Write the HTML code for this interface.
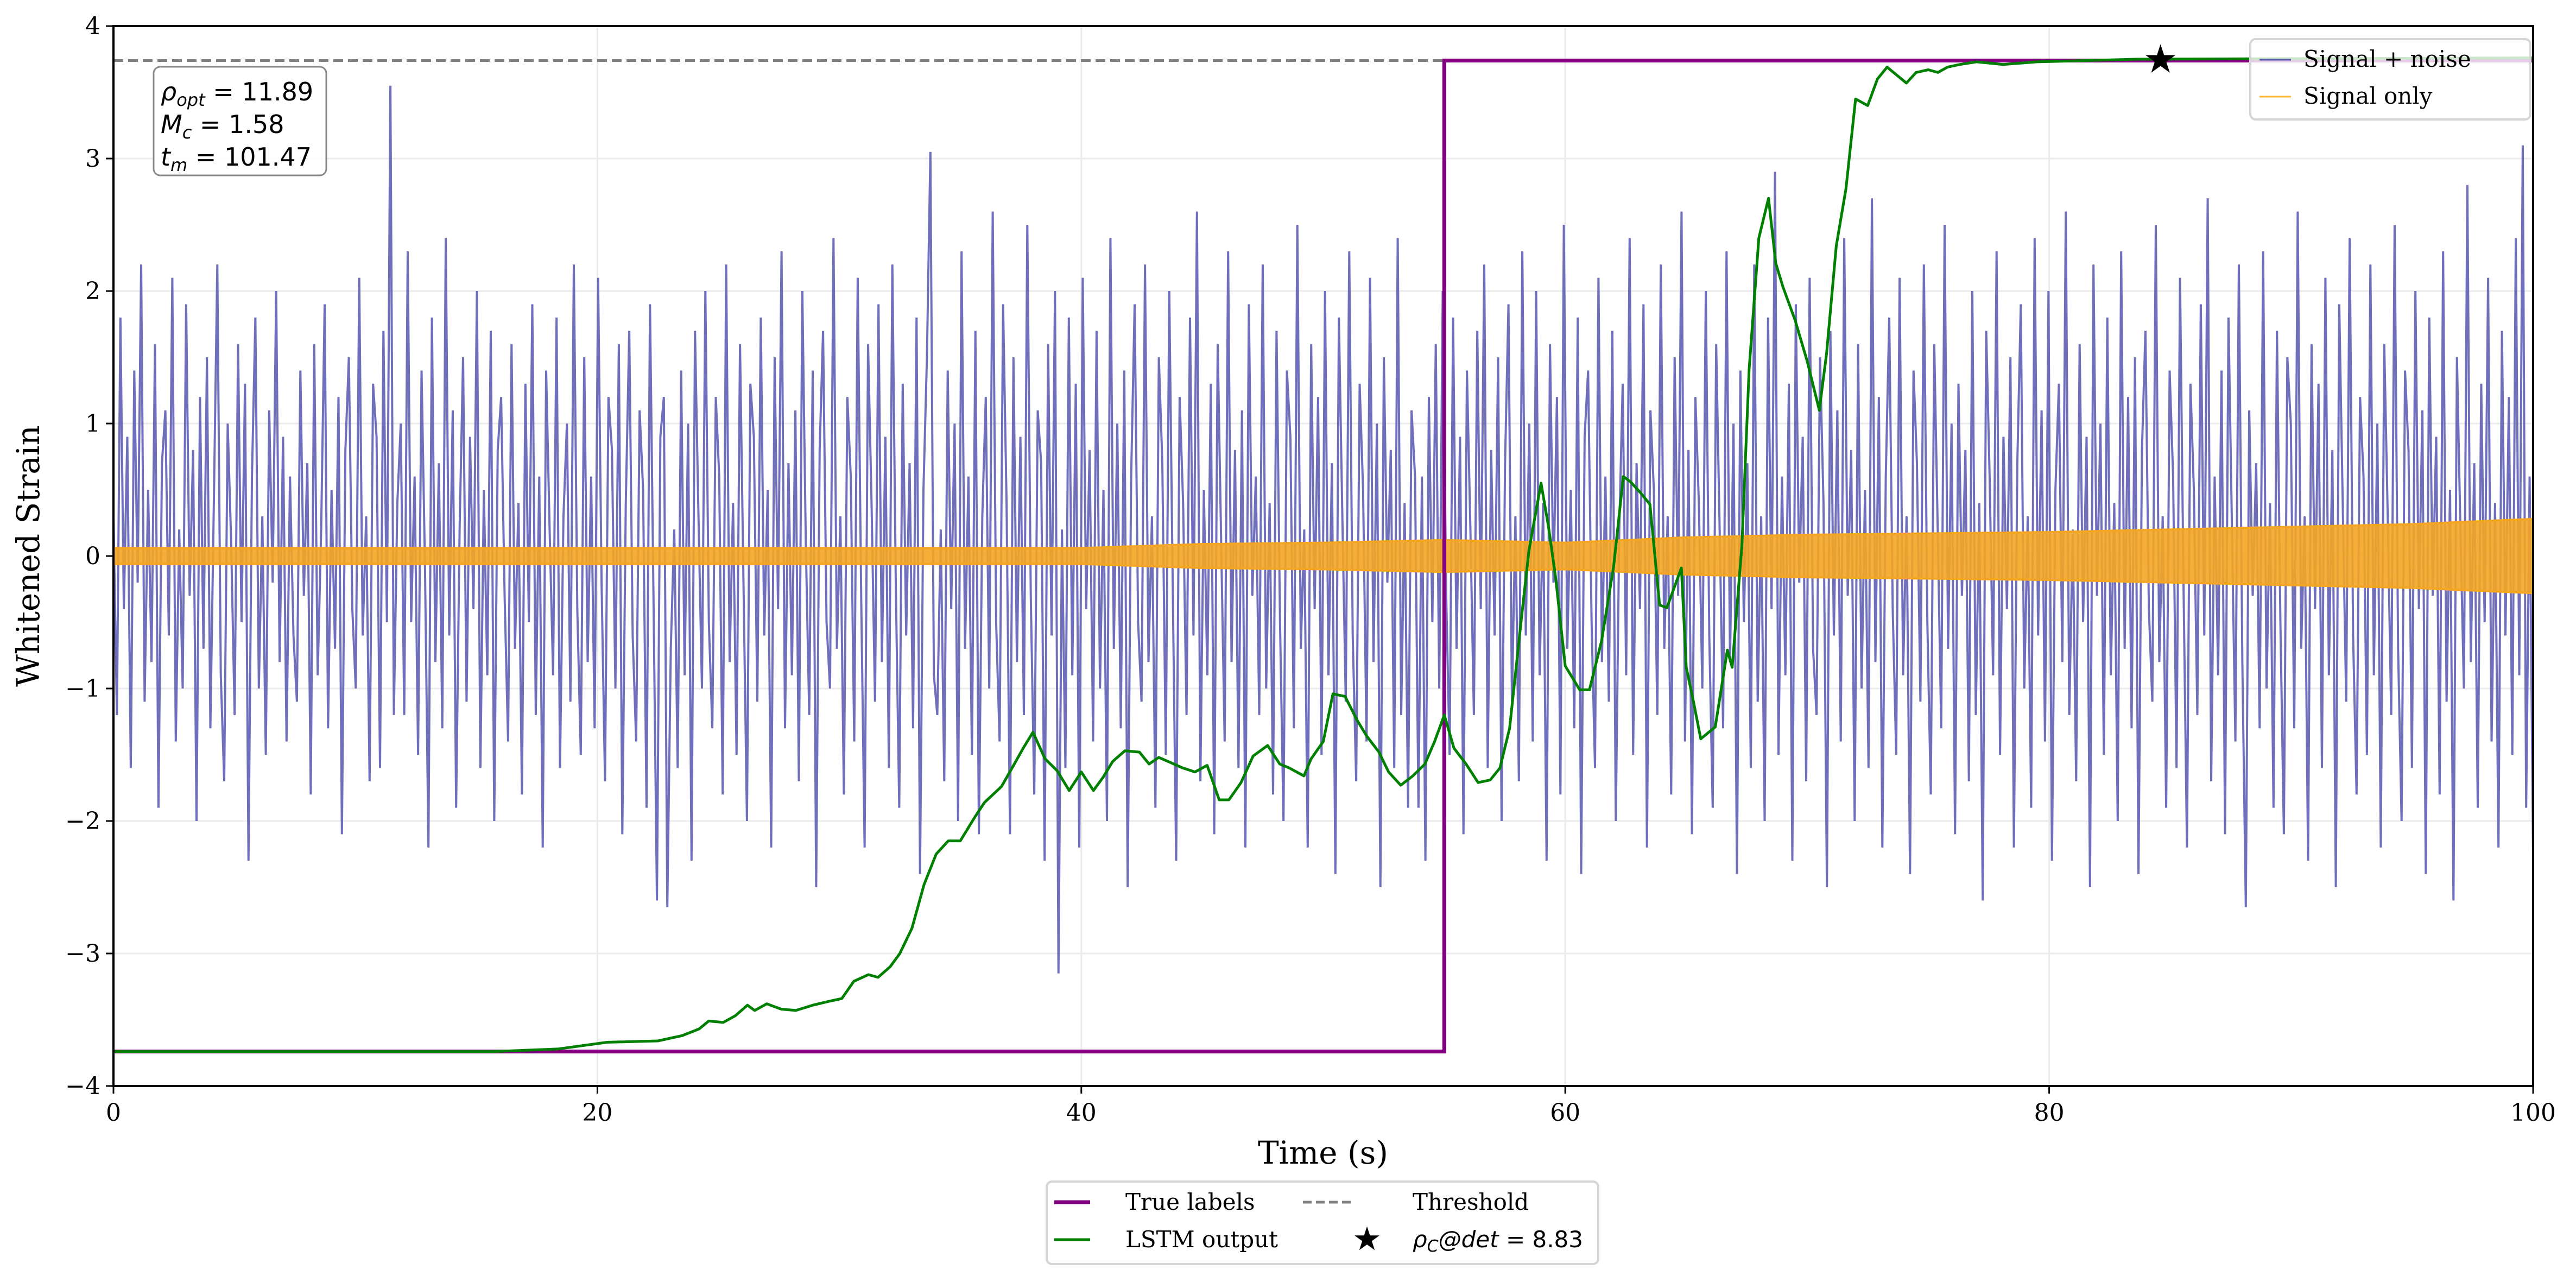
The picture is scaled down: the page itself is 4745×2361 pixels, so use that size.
<!DOCTYPE html>
<html><head><meta charset="utf-8"><style>
html,body{margin:0;padding:0;background:#fff;}
svg{display:block;font-family:"DejaVu Serif","Liberation Serif",serif;}
</style></head><body>
<svg id="chart" width="4745" height="2361" viewBox="0 0 4745 2361">
<rect x="0" y="0" width="4745" height="2361" fill="#fff"/>
<g id="grid"></g>
<g id="plot"></g>
<rect x="209" y="48" width="4457" height="1952" fill="none" stroke="#000" stroke-width="4"/>
<g id="ticks"></g>
<text x="2437" y="2143" font-size="58" text-anchor="middle">Time (s)</text>
<text x="72" y="1024" font-size="58" text-anchor="middle" transform="rotate(-90 72 1024)">Whitened Strain</text>
<g>
<rect x="283" y="123" width="318" height="200" rx="12" fill="#fff" fill-opacity="0.85" stroke="#888" stroke-width="3"/>
<text x="296" y="185" font-size="46" font-family="DejaVu Sans, sans-serif"><tspan font-style="italic">ρ</tspan><tspan font-size="32" dy="10" font-style="italic">opt</tspan><tspan dy="-10"> = 11.89</tspan></text>
<text x="296" y="245" font-size="46" font-family="DejaVu Sans, sans-serif"><tspan font-style="italic">M</tspan><tspan font-size="32" dy="10" font-style="italic">c</tspan><tspan dy="-10"> = 1.58</tspan></text>
<text x="296" y="305" font-size="46" font-family="DejaVu Sans, sans-serif"><tspan font-style="italic">t</tspan><tspan font-size="32" dy="10" font-style="italic">m</tspan><tspan dy="-10"> = 101.47</tspan></text>
</g>
<g>
<rect x="4145" y="72" width="516" height="148" rx="10" fill="#fff" fill-opacity="0.8" stroke="#d5d5d5" stroke-width="4"/>
<line x1="4162" y1="110" x2="4220" y2="110" stroke="#5c5cb0" stroke-width="3"/>
<text x="4243" y="123" font-size="42">Signal + noise</text>
<line x1="4162" y1="178" x2="4220" y2="178" stroke="#ffb52e" stroke-width="3"/>
<text x="4243" y="191" font-size="42">Signal only</text>
</g>
<g>
<rect x="1928" y="2176" width="1016" height="152" rx="10" fill="#fff" stroke="#d5d5d5" stroke-width="4"/>
<line x1="1942" y1="2214" x2="2008" y2="2214" stroke="purple" stroke-width="7"/>
<text x="2073" y="2228" font-size="42">True labels</text>
<line x1="1942" y1="2283" x2="2008" y2="2283" stroke="green" stroke-width="5"/>
<text x="2073" y="2297" font-size="42">LSTM output</text>
<line x1="2400" y1="2214" x2="2488" y2="2214" stroke="#808080" stroke-width="5" stroke-dasharray="16 8"/>
<text x="2602" y="2228" font-size="42">Threshold</text>
<text x="2518" y="2302" font-size="60" font-family="DejaVu Sans, sans-serif" text-anchor="middle">★</text>
<text x="2602" y="2297" font-size="42" font-family="DejaVu Sans, sans-serif"><tspan font-style="italic">ρ</tspan><tspan font-size="30" dy="8" font-style="italic">C</tspan><tspan dy="-8" font-style="italic">@det</tspan> = 8.83</text>
</g>
</svg>
<script>
const xTicks=[0,20,40,60,80,100];
const yTicks=[-4,-3,-2,-1,0,1,2,3,4];
const lstmT=[0,15.7,18.4,20.4,22.5,23.5,24.2,24.6,25.2,25.7,26.2,26.5,27.0,27.6,28.2,28.9,29.6,30.1,30.6,31.2,31.6,32.1,32.5,33.0,33.5,34.0,34.5,35.0,35.6,36.0,36.7,37.2,37.6,38.0,38.5,39.0,39.5,40.0,40.5,40.9,41.3,41.8,42.4,42.8,43.2,43.7,44.2,44.7,45.2,45.7,46.1,46.6,47.1,47.7,48.2,48.6,49.2,49.5,50.0,50.4,50.9,51.4,51.8,52.3,52.7,53.2,53.7,54.2,54.6,55.0,55.4,55.9,56.4,56.9,57.3,57.7,58.2,58.5,59.0,59.3,59.6,60.0,60.6,61.0,61.5,62.0,62.4,62.7,63.1,63.5,63.9,64.2,64.8,65.0,65.3,65.6,66.2,66.7,66.9,67.3,67.6,68.0,68.4,68.7,69.0,69.5,70.0,70.5,70.8,71.2,71.6,72.0,72.5,72.9,73.3,73.7,74.1,74.5,75.0,75.4,75.8,76.3,77.0,78.1,79.5,83.6,100];
const lstmY=[-3.74,-3.74,-3.72,-3.67,-3.66,-3.62,-3.57,-3.51,-3.52,-3.47,-3.39,-3.43,-3.38,-3.42,-3.43,-3.39,-3.36,-3.34,-3.21,-3.16,-3.18,-3.10,-3.00,-2.81,-2.48,-2.25,-2.15,-2.15,-1.97,-1.86,-1.74,-1.58,-1.45,-1.33,-1.53,-1.62,-1.77,-1.63,-1.77,-1.67,-1.55,-1.47,-1.48,-1.57,-1.52,-1.56,-1.60,-1.63,-1.58,-1.84,-1.84,-1.71,-1.51,-1.43,-1.57,-1.60,-1.66,-1.53,-1.40,-1.04,-1.06,-1.24,-1.36,-1.48,-1.63,-1.73,-1.66,-1.57,-1.40,-1.20,-1.45,-1.57,-1.71,-1.69,-1.60,-1.30,-0.45,0.04,0.55,0.23,-0.16,-0.83,-1.01,-1.01,-0.64,-0.08,0.60,0.56,0.48,0.39,-0.37,-0.39,-0.09,-0.84,-1.10,-1.38,-1.29,-0.71,-0.84,0.08,1.41,2.40,2.70,2.21,2.03,1.78,1.47,1.10,1.53,2.34,2.77,3.45,3.40,3.60,3.69,3.63,3.57,3.65,3.67,3.65,3.69,3.71,3.73,3.71,3.73,3.75,3.76];
const labelT=[0,55,55,100];
const labelY=[-3.74,-3.74,3.74,3.74];
const threshold=[3.74];
const starT=[84.6];
const starY=[3.74];
const envT=[0,10,20,30,40,45,50,55,60,65,70,75,80,85,90,95,100];
const envA=[0.06,0.06,0.06,0.06,0.06,0.09,0.1,0.12,0.1,0.14,0.16,0.17,0.18,0.2,0.22,0.24,0.28];
const noise=[
0.3,-1.2,1.8,-0.4,0.9,-1.6,1.4,-0.2,2.2,-1.1,0.5,-0.8,1.6,-1.9,0.7,1.1,-0.6,2.1,-1.4,0.2,-1.0,1.9,-0.3,0.8,-2.0,1.2,-0.7,1.5,-1.3,0.4,2.2,-0.9,-1.7,1.0,0.1,-1.2,1.6,-0.5,1.3,-2.3,0.6,1.8,-1.0,0.3,-1.5,1.1,-0.2,2.0,-0.8,0.9,
-1.4,0.6,-0.6,-1.1,1.4,-0.3,0.7,-1.8,1.6,-0.9,0.2,1.9,-1.3,0.5,-0.7,1.2,-2.1,0.8,1.5,-0.4,-1.0,2.1,-0.6,0.3,-1.7,1.3,0.9,-1.6,1.7,-0.5,3.55,-1.2,0.4,1.0,-1.2,2.3,-0.5,0.6,-1.5,1.4,-0.1,-2.2,1.8,-0.8,0.7,-1.3,2.4,-0.6,1.1,-1.9,
0.2,1.5,-1.1,0.9,-0.4,2.0,-1.6,0.5,-0.9,1.7,-2.0,0.8,1.2,-0.3,-1.4,1.6,-0.7,0.4,-1.8,1.3,-0.5,1.9,-1.2,0.6,-2.2,1.4,0.2,-0.9,1.8,-1.6,0.3,1.0,-1.1,2.2,-0.4,-1.5,1.5,-0.8,0.6,-1.3,2.1,-0.2,-1.7,1.2,0.8,-1.0,1.6,-2.1,0.4,1.7,
-0.6,-1.4,1.1,0.5,-1.9,1.9,-0.3,-2.6,0.9,1.2,-2.65,-0.7,0.2,-1.6,1.4,-0.9,1.0,-2.3,1.7,0.3,-1.0,2.0,-0.5,-1.3,1.2,0.6,-1.8,2.2,-0.8,0.4,-1.5,1.6,-0.2,-2.0,1.3,0.9,-1.1,1.8,-0.6,0.5,-2.2,1.5,-0.4,2.3,-1.3,0.7,-0.9,1.1,-1.7,2.0,
0.1,-1.2,1.4,-2.5,0.8,1.7,-0.5,-1.0,2.4,-0.7,0.3,-1.8,1.2,0.6,-1.4,2.1,-0.3,-2.2,1.6,0.4,-1.1,1.9,-0.8,0.9,-1.6,2.2,-0.2,-1.9,1.3,-0.6,0.7,-1.3,1.8,-2.4,0.5,1.5,3.05,-0.9,-1.2,0.2,-1.7,1.4,-0.4,1.0,-2.0,2.3,-0.7,0.6,-1.5,1.7,
-2.1,0.3,1.2,-1.0,2.6,-0.5,-1.4,1.9,0.4,-2.1,1.5,-0.8,0.9,-1.2,2.5,-0.3,-1.8,1.1,0.7,-2.3,1.6,-0.6,2.0,-3.15,0.2,-1.6,1.8,-0.9,1.3,-2.2,2.1,-0.4,0.8,-1.4,1.7,-1.0,0.5,-2.0,2.4,-0.7,1.0,-1.3,1.4,-2.5,0.6,1.9,-0.5,-1.1,2.2,-0.8,
0.3,-1.9,1.5,0.7,-1.5,2.0,-0.2,-2.3,1.2,0.4,-1.2,1.8,-0.6,2.6,-1.7,0.5,-0.9,1.3,-2.1,1.6,0.1,-1.4,2.3,-0.8,0.8,-1.6,1.1,-2.2,1.9,-0.3,0.6,-1.2,2.2,-1.0,0.4,-1.8,1.7,-0.5,-2.0,1.4,0.9,-1.3,2.5,-0.7,0.2,-2.2,1.6,-0.4,1.2,-1.5,
2.0,-0.9,0.7,-2.4,1.8,0.3,-1.1,2.3,-0.6,-1.7,1.3,0.5,-1.4,2.1,-0.8,1.0,-2.5,1.5,-0.2,0.8,-1.6,2.4,-1.2,0.4,-1.9,1.1,0.6,-1.9,0.6,-2.3,1.2,-0.5,1.6,-1.0,2.0,-0.3,-1.5,1.8,-0.7,0.9,-2.1,1.4,0.2,-1.2,1.7,-0.4,2.2,-1.6,0.8,-0.6,
1.5,-2.0,0.7,1.9,-1.1,0.3,-1.7,2.3,-0.6,1.0,-1.4,2.0,-0.9,0.4,-2.3,1.6,-0.2,1.2,-1.8,2.5,-0.7,0.5,-1.3,1.8,-2.4,0.9,1.4,-0.5,-1.6,2.1,-0.8,0.6,-1.1,1.7,-2.0,0.2,1.3,-0.9,2.4,-1.5,0.7,-0.4,1.9,-2.2,1.1,0.5,-1.2,2.2,-0.7,0.3,
-1.8,1.5,-0.3,2.6,-1.4,0.8,-2.1,1.2,0.4,-1.0,2.0,-0.6,-1.9,1.6,0.2,-1.3,2.3,-0.8,1.0,-2.4,1.4,-0.5,0.7,-1.6,2.2,-1.1,0.3,-2.0,1.8,-0.4,2.9,-1.5,0.6,-0.9,1.3,-2.3,1.9,-0.2,0.9,-1.7,2.1,-0.7,-1.2,1.5,0.4,-2.5,1.7,-0.6,1.1,-1.4,
2.4,-0.3,0.8,-2.0,1.6,-1.0,0.5,-1.6,2.7,-0.8,1.2,-2.2,0.6,1.8,-0.4,-1.5,2.1,-0.9,0.3,-2.4,1.4,0.7,-1.1,2.2,-0.5,-1.8,1.6,0.2,-1.3,2.5,-0.7,1.0,-2.1,1.3,-0.3,0.8,-1.7,2.0,-1.2,0.4,-2.6,1.7,0.6,-0.9,2.3,-1.5,0.9,-0.4,1.5,-2.2,
0.7,1.9,-1.0,0.3,-1.9,2.4,-0.6,1.1,-1.4,2.0,-2.3,0.5,1.3,-0.8,2.6,-1.2,0.2,-1.7,1.6,-0.5,0.9,-2.5,2.2,-0.3,1.0,-1.5,1.8,-0.9,0.4,-2.0,2.3,-0.7,1.2,-1.3,1.5,-2.4,0.8,1.7,-0.4,-1.1,2.5,-0.8,0.3,-1.9,1.4,0.6,-1.6,2.1,-0.2,-2.2,
1.3,0.5,-1.2,1.9,-0.6,2.7,-1.7,0.6,-0.9,1.4,-2.1,1.8,0.2,-1.4,2.2,-0.8,-2.65,1.1,-0.3,0.7,-1.3,2.3,-1.0,0.4,-1.9,1.7,-0.5,-2.1,1.5,1.0,-1.3,2.6,-0.7,0.3,-2.3,1.6,-0.4,1.3,-1.6,2.1,-0.9,0.8,-2.5,1.9,0.4,-1.1,2.4,-0.6,-1.8,1.2,
0.6,-1.5,2.2,-0.9,1.0,-2.2,1.6,0.3,-1.2,2.5,-0.7,-2.0,1.4,0.8,-1.6,2.0,-0.4,1.1,-2.4,1.8,-0.3,0.9,-1.8,2.3,-1.1,0.5,-2.6,1.5,0.2,-1.0,2.8,-0.8,0.7,-1.9,1.3,-0.5,2.1,-1.4,0.4,-2.2,1.7,-0.6,1.2,-1.5,2.4,-0.9,3.1,-1.9,0.6,-2.3];

const X0=209,X1=4666,Y0=48,Y1=2000;
const xs=t=>X0+(t/100)*(X1-X0);
const ys=v=>Y1-((v+4)/8)*(Y1-Y0);
const NS="http://www.w3.org/2000/svg";
function mk(tag,parent){const e=document.createElementNS(NS,tag);parent.appendChild(e);return e;}
const grid=document.getElementById('grid'),plot=document.getElementById('plot'),ticks=document.getElementById('ticks');

xTicks.forEach(t=>{
  const g=mk('line',grid);
  
  
  g.setAttribute('x1',xs(t));g.setAttribute('x2',xs(t));g.setAttribute('y1',Y0);g.setAttribute('y2',Y1);
  g.setAttribute('stroke','#ebebeb');g.setAttribute('stroke-width','3');
  const tk=mk('line',ticks);
  
  
  tk.setAttribute('x1',xs(t));tk.setAttribute('x2',xs(t));tk.setAttribute('y1',Y1);tk.setAttribute('y2',Y1+14);
  tk.setAttribute('stroke','#000');tk.setAttribute('stroke-width','3');
  const tx=mk('text',ticks);
  
  
  tx.setAttribute('x',xs(t));tx.setAttribute('y',Y1+64);tx.setAttribute('font-size','44');tx.setAttribute('text-anchor','middle');
  tx.textContent=String(t);
});
yTicks.forEach(v=>{
  const g=mk('line',grid);
  
  
  g.setAttribute('x1',X0);g.setAttribute('x2',X1);g.setAttribute('y1',ys(v));g.setAttribute('y2',ys(v));
  g.setAttribute('stroke','#ebebeb');g.setAttribute('stroke-width','3');
  const tk=mk('line',ticks);
  
  
  tk.setAttribute('x1',X0-14);tk.setAttribute('x2',X0);tk.setAttribute('y1',ys(v));tk.setAttribute('y2',ys(v));
  tk.setAttribute('stroke','#000');tk.setAttribute('stroke-width','3');
  const tx=mk('text',ticks);
  
  
  tx.setAttribute('x',X0-24);tx.setAttribute('y',ys(v)+15);tx.setAttribute('font-size','44');tx.setAttribute('text-anchor','end');
  tx.textContent=(v<0?'\u2212':'')+Math.abs(v);
});

let d='';
noise.forEach((v,i)=>{d+=(i?'L':'M')+xs(i*100/(noise.length-1)).toFixed(1)+' '+ys(v).toFixed(1);});
const np=mk('path',plot);


np.setAttribute('d',d);np.setAttribute('fill','none');np.setAttribute('stroke','#5f5fb5');np.setAttribute('stroke-width','4');np.setAttribute('stroke-opacity','0.9');

let up='',dn='';
const N=400;
for(let k=0;k<=N;k++){
  const t=k*100/N;
  let j=0;while(j<envT.length-2&&envT[j+1]<t)j++;
  const f=(t-envT[j])/(envT[j+1]-envT[j]);
  const a=envA[j]+(envA[j+1]-envA[j])*f;
  up+=(k?'L':'M')+xs(t).toFixed(1)+' '+ys(a).toFixed(1);
  dn='L'+xs(t).toFixed(1)+' '+ys(-a).toFixed(1)+dn;
}
const sp=mk('path',plot);


sp.setAttribute('d',up+dn+'Z');sp.setAttribute('fill','#f4a623');sp.setAttribute('fill-opacity','0.9');sp.setAttribute('stroke','#f4a623');sp.setAttribute('stroke-width','4');

const th=mk('line',plot);


th.setAttribute('x1',X0);th.setAttribute('x2',X1);th.setAttribute('y1',ys(threshold[0]));th.setAttribute('y2',ys(threshold[0]));
th.setAttribute('stroke','#808080');th.setAttribute('stroke-width','5');th.setAttribute('stroke-dasharray','18 9');

const lp=mk('path',plot);


lp.setAttribute('d',labelT.map((t,i)=>(i?'L':'M')+xs(t)+' '+ys(labelY[i])).join(''));
lp.setAttribute('fill','none');lp.setAttribute('stroke','purple');lp.setAttribute('stroke-width','7');

const gp=mk('path',plot);


gp.setAttribute('d',lstmT.map((t,i)=>(i?'L':'M')+xs(t).toFixed(1)+' '+ys(lstmY[i]).toFixed(1)).join(''));
gp.setAttribute('fill','none');gp.setAttribute('stroke','green');gp.setAttribute('stroke-width','5');gp.setAttribute('stroke-linejoin','round');

starT.forEach((t,i)=>{
  const s=mk('text',plot);
  
  
  s.setAttribute('x',xs(t));s.setAttribute('y',ys(starY[i])+22);s.setAttribute('font-size','72');s.setAttribute('text-anchor','middle');
  s.setAttribute('font-family','DejaVu Sans, sans-serif');
  s.textContent='★';
});
</script>
</body></html>
